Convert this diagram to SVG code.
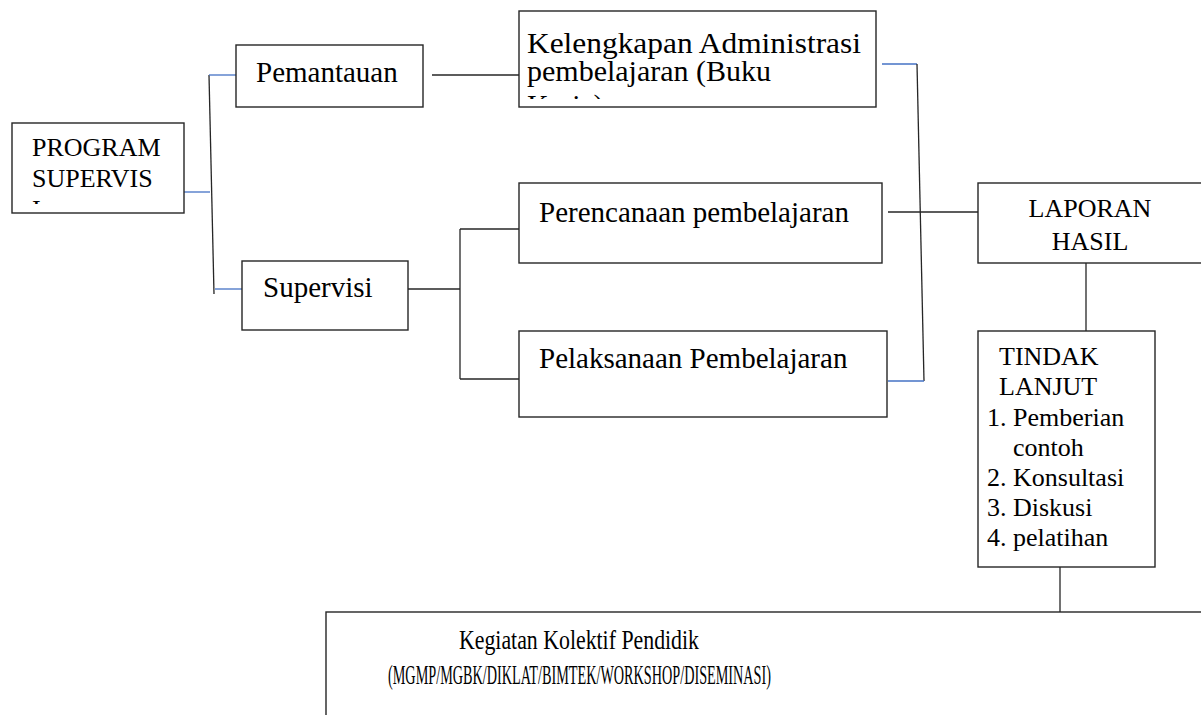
<svg xmlns="http://www.w3.org/2000/svg" width="1201" height="715" viewBox="0 0 1201 715">
<style>
.box{fill:#fff;stroke:#262626;stroke-width:1.4}
.t{font-family:"Liberation Serif","Times New Roman",serif;fill:#000}
.ln{stroke:#262626;stroke-width:1.3;fill:none}
.bl{stroke:#4472C4;stroke-width:1.3;fill:none}
</style>
<defs>
<clipPath id="cpProg"><rect x="12" y="123" width="172" height="81"/></clipPath>
<clipPath id="cpKel"><rect x="519" y="11" width="357" height="88"/></clipPath>
</defs>
<rect width="1201" height="715" fill="#fff"/>
<g id="connectors">
<line class="bl" x1="184" y1="192" x2="210" y2="192"/>
<line class="ln" x1="209" y1="75" x2="214" y2="294"/>
<line class="bl" x1="209" y1="75" x2="236" y2="75"/>
<line class="bl" x1="215" y1="289" x2="242" y2="289"/>
<line class="ln" x1="432" y1="75" x2="519" y2="75"/>
<line class="ln" x1="408" y1="289" x2="460" y2="289"/>
<line class="ln" x1="460" y1="229" x2="460" y2="379"/>
<line class="ln" x1="460" y1="229" x2="519" y2="229"/>
<line class="ln" x1="460" y1="379" x2="519" y2="379"/>
<line class="bl" x1="882" y1="64" x2="917" y2="64"/>
<line class="ln" x1="917" y1="64" x2="924" y2="381"/>
<line class="bl" x1="888" y1="381" x2="924" y2="381"/>
<line class="ln" x1="888" y1="212" x2="978" y2="212"/>
<line class="ln" x1="1086" y1="263" x2="1086" y2="331"/>
<line class="ln" x1="1060" y1="567" x2="1060" y2="612"/>
</g>
<g id="program">
<rect class="box" x="12" y="123" width="172" height="90"/>
<g clip-path="url(#cpProg)">
<text class="t" font-size="26" x="32" y="156">PROGRAM</text>
<text class="t" font-size="26" x="32" y="187">SUPERVIS</text>
<text class="t" font-size="26" x="32" y="218">I</text>
</g>
</g>
<g id="pemantauan">
<rect class="box" x="236" y="45" width="187" height="62"/>
<text class="t" font-size="29" x="256" y="82">Pemantauan</text>
</g>
<g id="supervisi">
<rect class="box" x="242" y="261" width="166" height="69"/>
<text class="t" font-size="29" x="263" y="297">Supervisi</text>
</g>
<g id="kelengkapan">
<rect class="box" x="519" y="11" width="357" height="96"/>
<g clip-path="url(#cpKel)">
<text class="t" font-size="30" x="527" y="53" textLength="334" lengthAdjust="spacingAndGlyphs">Kelengkapan Administrasi</text>
<text class="t" font-size="30" x="527" y="81">pembelajaran (Buku</text>
<text class="t" font-size="30" x="527" y="115">Kerja)</text>
</g>
</g>
<g id="perencanaan">
<rect class="box" x="519" y="183" width="363" height="80"/>
<text class="t" font-size="29" x="539" y="222">Perencanaan pembelajaran</text>
</g>
<g id="pelaksanaan">
<rect class="box" x="519" y="331" width="368" height="86"/>
<text class="t" font-size="29" x="539" y="368">Pelaksanaan Pembelajaran</text>
</g>
<g id="laporan">
<rect class="box" x="978" y="183" width="226" height="80"/>
<text class="t" font-size="26" x="1090" y="217" text-anchor="middle">LAPORAN</text>
<text class="t" font-size="26" x="1090" y="250" text-anchor="middle">HASIL</text>
</g>
<g id="tindak">
<rect class="box" x="978" y="331" width="177" height="236"/>
<text class="t" font-size="26" x="999" y="365">TINDAK</text>
<text class="t" font-size="26" x="999" y="395">LANJUT</text>
<text class="t" font-size="26" x="987" y="426">1.</text>
<text class="t" font-size="26" x="1013" y="426">Pemberian</text>
<text class="t" font-size="26" x="1013" y="456">contoh</text>
<text class="t" font-size="26" x="987" y="486">2.</text>
<text class="t" font-size="26" x="1013" y="486">Konsultasi</text>
<text class="t" font-size="26" x="987" y="516">3.</text>
<text class="t" font-size="26" x="1013" y="516">Diskusi</text>
<text class="t" font-size="26" x="987" y="546">4.</text>
<text class="t" font-size="26" x="1013" y="546">pelatihan</text>
</g>
<g id="kegiatan">
<rect class="box" x="326" y="612" width="880" height="110"/>
<text class="t" font-size="27" x="459" y="649" textLength="240" lengthAdjust="spacingAndGlyphs">Kegiatan Kolektif Pendidik</text>
<text class="t" font-size="27" x="388" y="684" textLength="383" lengthAdjust="spacingAndGlyphs">(MGMP/MGBK/DIKLAT/BIMTEK/WORKSHOP/DISEMINASI)</text>
</g>
</svg>
